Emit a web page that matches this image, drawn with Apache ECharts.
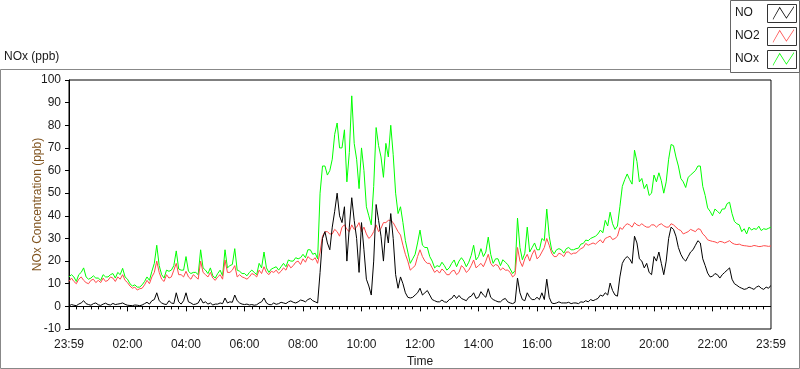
<!DOCTYPE html>
<html>
<head>
<meta charset="utf-8">
<script src="https://cdn.jsdelivr.net/npm/echarts@6/dist/echarts.min.js"></script>
<style>
  html, body { margin: 0; padding: 0; background: #fff; }
  #chart { width: 800px; height: 369px; }
</style>
</head>
<body>
<div id="chart"></div>
<script>
// minutes after 23:59, one sample every 5 min (one row = one hour)
var minutes = [];
for (var m = 0; m <= 1440; m += 5) minutes.push(m);

var xLabels = ['23:59', '02:00', '04:00', '06:00', '08:00', '10:00', '12:00',
               '14:00', '16:00', '18:00', '20:00', '22:00', '23:59'];

var noValues = [
  0.2, 0.8, 0.5, 0.3, 1, 1.5, 2.5, 1.2, 0.8, 0.5, 1.2, 1.5,
  0.7, 0.4, 1, 1.4, 0.8, 0.6, 1.3, 0.8, 1, 1.2, 1.5, 0.9,
  0.5, 0.4, 0.3, 0.6, 0.5, 0.3, 0.6, 1.2, 1.8, 1, 2.5, 3,
  6, 2.5, 1.5, 1, 0.8, 2.5, 1.5, 1.2, 6, 2, 1, 2.5,
  6, 2, 1.5, 0.8, 1, 1.5, 3.5, 1.5, 2, 1, 1.5, 0.6,
  1, 1, 1.5, 1.2, 3.7, 1.5, 2, 1.8, 5, 2.5, 1.5, 1,
  0.8, 1, 0.6, 0.8, 0.5, 0.7, 1.5, 2, 3.7, 1.5, 0.8, 0.7,
  1.5, 0.9, 1.2, 1.8, 1.5, 1.2, 2, 2.4, 1.8, 1.5, 2, 2.8,
  2.5, 2, 3, 3.5, 2.5, 2, 1.5, 15, 30, 33, 28, 25,
  35, 42, 50, 40, 37, 44, 20, 35, 48, 38, 30, 15,
  37, 25, 12, 9, 5, 20, 45, 38, 31, 20, 35, 28,
  41, 30, 14, 8, 13, 10, 6, 4, 3.7, 4, 5, 6,
  8, 5, 6, 7, 5, 3, 2.5, 2, 2, 2.8, 2, 1.8,
  3, 3.5, 5, 3.5, 4.8, 3.5, 3, 2.5, 4, 4.5, 6, 3.5,
  4, 6.5, 5, 4, 7.8, 4, 3, 2.5, 2, 2, 3, 3.5,
  2, 1.5, 1.2, 1.8, 12.5, 6, 3, 2.5, 6, 4, 3, 3,
  4, 3, 6, 3, 12, 4, 1.5, 1.2, 1.5, 2, 1.5, 1.5,
  1.5, 1.8, 1.2, 1.5, 1.5, 1.2, 2, 1.8, 2.5, 2, 3, 2.5,
  3, 3.5, 5, 4.5, 6, 5, 10.3, 7, 5, 4.5, 13, 19,
  21, 22, 21, 19, 31, 28, 21, 20, 17, 19, 15, 14,
  22, 20, 24, 19, 14, 20, 30, 35, 34, 31, 26, 23,
  21, 20, 22, 24, 25, 27, 29, 28, 21, 18, 14.7, 13,
  13.3, 14.5, 14, 12.5, 14, 15, 16, 17, 12, 10, 9.3, 8.5,
  8, 7.5, 7.8, 8.5, 8, 7.5, 8.5, 9, 8, 7.5, 8.5, 8,
  9.3
];

var no2Values = [
  11, 12.5, 11, 10, 12, 13, 11.5, 10.5, 10, 11.5, 12, 10.5,
  11.5, 10.5, 12.5, 11, 11.5, 13, 12.5, 11, 13, 12, 14, 11.5,
  10.5, 9, 8, 8.5, 7.2, 7.8, 8, 9.5, 11.5, 10, 13, 15,
  20, 15, 12, 11, 14, 12.5, 13, 16, 19, 14, 14, 13,
  15.5, 13, 12, 14, 13, 12, 20, 15, 14, 13, 15, 12.5,
  11.5, 13, 14, 12, 20.5, 15, 15, 16, 18, 13, 14, 13,
  12.6, 12, 13, 14.5, 14, 13, 16, 14.5, 17.5, 15, 14, 15.5,
  15, 16, 14.5, 15.5, 17, 16, 18.6, 17, 18, 19.5, 20, 18.5,
  21, 19.5, 22, 21, 20.5, 21.5, 19, 24, 31, 33, 33, 32,
  32, 34, 33, 31, 35, 36, 34, 33, 36, 34, 35, 37,
  33, 35, 32, 30, 31, 33, 36, 33, 34.5, 37, 37, 38,
  38, 37, 35, 33, 31.5, 27, 23, 20, 16, 17, 18, 22,
  25, 22, 20, 19, 19, 17, 15, 16, 14.7, 16.5, 15.5, 14,
  14, 15.5, 16, 14, 15, 18, 17, 15, 16, 18, 20.5, 17,
  18, 19, 17.5, 20, 23, 19, 17.6, 18.5, 18, 16, 17, 16,
  16, 15, 13, 14, 26, 20, 17.6, 21, 23, 20, 23, 25,
  21, 22, 24, 26, 30, 27, 23.5, 22, 22, 23.5, 23, 22,
  24, 24, 23, 23.5, 23.5, 24.5, 25.5, 26, 27.8, 27, 27.5, 28,
  27.5, 28.5, 29.4, 28, 30, 30.5, 31, 29.5, 30, 31, 34.8, 34,
  35.6, 36.5, 36, 35, 37, 36, 35.6, 36.5, 35.6, 35, 35, 36,
  36, 35, 36, 36.5, 35.6, 35, 35, 36.5, 36, 35, 34, 33.5,
  32, 32.5, 33, 34, 33.5, 33, 34.3, 34, 32, 31, 29.4, 29,
  28.7, 28.5, 28, 28.7, 28.5, 28, 28.5, 29, 28, 27.5, 27.3, 27.5,
  27, 26.8, 26.7, 26.5, 26.5, 26.9, 26.7, 26.4, 26.5, 26.8, 26.7, 26.5,
  26.7
];

var noxValues = [
  13, 14, 13, 11, 14, 15, 17, 13, 12, 12.5, 13.5, 12.5,
  12.5, 11.5, 14, 13, 13, 14, 14.5, 12.5, 15, 14, 16.8, 13,
  12, 10, 9, 9.5, 8.5, 8.5, 9.5, 11, 13, 11.5, 15.5, 19,
  27, 18, 14, 12.5, 16, 15.5, 16, 18, 24.5, 16.5, 16, 16,
  22, 15.5, 14.5, 15, 15, 14, 25, 17, 16, 14.5, 17, 13.5,
  12.5, 14.5, 16, 13.5, 25, 17, 18, 18.5, 25.5, 16, 15.5, 14.5,
  14.5, 13.5, 15, 16, 15, 14, 19, 17, 24, 17, 15, 16.5,
  17, 17.5, 16, 17.5, 19, 17.5, 20.5, 20, 20, 21.5, 21, 21.5,
  23, 21.5, 25, 25, 23, 23.5, 21, 50, 62, 62, 58, 60,
  65, 76, 81, 70, 70, 78, 55, 68, 93, 72, 65, 52,
  70, 60, 44, 40, 36, 53, 79, 71, 66, 57, 72, 66,
  80, 67, 50, 41, 44, 37, 29, 24, 19, 21, 23, 28,
  33.7, 27, 26, 26, 22, 20, 17, 18, 17.5, 19.5, 18, 16,
  17, 19, 20.5, 17.5, 20, 21.5, 20, 17.5, 19.5, 22.5, 27, 20.5,
  22, 25.5, 22, 24, 30.6, 23, 19, 21, 21, 18, 20.6, 19.5,
  18.5, 16.5, 14.5, 15.8, 39, 26, 20.6, 23.5, 35, 24, 26, 28,
  25, 25, 30, 29, 43, 31, 25, 23.2, 25, 25.5, 25, 23.5,
  25.5, 26, 25, 25, 25.5, 25.7, 27.5, 27.8, 29.3, 29, 30, 30.5,
  31, 32, 33.7, 32.5, 38, 35.5, 41.6, 36.5, 34, 35.5, 44, 53,
  56, 58.5, 56, 54, 69, 64, 55, 56.5, 52, 54, 49, 50,
  58, 55, 59, 55.5, 50, 55, 65, 71.5, 71, 66, 62, 56.5,
  55, 52.5, 57, 58, 59, 60, 62, 62, 53, 49, 43.5, 42,
  40, 43, 42, 41, 43, 43, 45.4, 46, 41, 37.5, 36.5, 36,
  33, 34.3, 32, 35, 33.7, 34.4, 34, 35.4, 33.5, 34.3, 34, 34.5,
  35
];

function pairs(vals) {
  return vals.map(function (v, i) { return [minutes[i], v]; });
}

var font = 'Liberation Sans';
var txt = '#1a1a1a';
var zigzag = 'path://M0,15 L8,1 L16,13.5 L25,0 L25,1.6 L16,15.1 L8,2.6 L0,16.6 Z';

var chart = echarts.init(document.getElementById('chart'));
chart.setOption({
  animation: false,
  textStyle: { fontFamily: font },
  title: {
    text: 'NOx (ppb)',
    left: 4, top: 51, padding: 0,
    textStyle: { fontSize: 12, fontWeight: 'normal', color: txt, fontFamily: font }
  },
  legend: {
    data: ['NO', 'NO2', 'NOx'],
    orient: 'vertical',
    right: 6, top: 6, padding: 0,
    align: 'right',
    icon: zigzag,
    itemWidth: 25, itemHeight: 14, itemGap: 9,
    itemStyle: { borderWidth: 0 },
    formatter: function (name) { return '{t|' + name + '}'; },
    textStyle: {
      fontSize: 12, lineHeight: 14, color: txt, fontFamily: font,
      rich: { t: { width: 31, align: 'left', fontSize: 12, color: txt, fontFamily: font } }
    },
    z: 20
  },
  grid: {
    left: 69, right: 29, top: 80, bottom: 40,
    outerBoundsMode: 'none',
    show: true, borderColor: '#000', borderWidth: 1
  },
  xAxis: {
    type: 'value',
    min: 0, max: 1440, interval: 120,
    name: 'Time', nameLocation: 'middle', nameGap: 26,
    nameTextStyle: { fontSize: 12, color: txt },
    axisLine: { lineStyle: { color: '#000' } },
    axisTick: { length: 5, lineStyle: { color: '#000' } },
    minorTick: { show: true, splitNumber: 8, length: 3, lineStyle: { color: '#000' } },
    splitLine: { show: false },
    axisLabel: {
      margin: 10, fontSize: 12, color: txt,
      formatter: function (v) { return xLabels[Math.round(v / 120)]; }
    }
  },
  yAxis: {
    type: 'value',
    min: -10, max: 100, interval: 10,
    name: 'NOx Concentration (ppb)', nameLocation: 'middle', nameGap: 25, nameRotate: 90,
    nameMoveOverlap: false,
    nameTextStyle: { fontSize: 12, color: '#80541f' },
    axisLine: { show: true, lineStyle: { color: '#000' } },
    axisTick: { show: true, length: 4, lineStyle: { color: '#000' } },
    splitLine: { show: false },
    axisLabel: { margin: 8, fontSize: 12, color: txt }
  },
  series: [
    { name: 'NOx', type: 'line', showSymbol: false, data: pairs(noxValues),
      color: '#00ff00', lineStyle: { width: 1, color: '#00ff00' } },
    { name: 'NO2', type: 'line', showSymbol: false, data: pairs(no2Values),
      color: '#ff4a4a', lineStyle: { width: 1, color: '#ff4a4a' } },
    { name: 'NO', type: 'line', showSymbol: false, data: pairs(noValues),
      color: '#000000', lineStyle: { width: 1, color: '#000000' } }
  ],
  graphic: [
    { type: 'rect', shape: { x: 0.5, y: 69.5, width: 799, height: 299 },
      style: { fill: 'none', stroke: '#888', lineWidth: 1 }, z: 5, silent: true },
    { type: 'line', shape: { x1: 771.5, y1: 80, x2: 771.5, y2: 329 },
      style: { stroke: '#888', lineWidth: 1 }, z: 6, silent: true },
    { type: 'rect', shape: { x: 730.5, y: 0.5, width: 69, height: 72 },
      style: { fill: '#fff', stroke: '#666', lineWidth: 1 }, z: 10, silent: true },
    { type: 'rect', shape: { x: 767.5, y: 4.5, width: 29, height: 18 },
      style: { fill: 'none', stroke: '#333', lineWidth: 1 }, z: 30, silent: true },
    { type: 'rect', shape: { x: 767.5, y: 27.5, width: 29, height: 18 },
      style: { fill: 'none', stroke: '#333', lineWidth: 1 }, z: 30, silent: true },
    { type: 'rect', shape: { x: 767.5, y: 50.5, width: 29, height: 18 },
      style: { fill: 'none', stroke: '#333', lineWidth: 1 }, z: 30, silent: true }
  ]
});
</script>
</body>
</html>
